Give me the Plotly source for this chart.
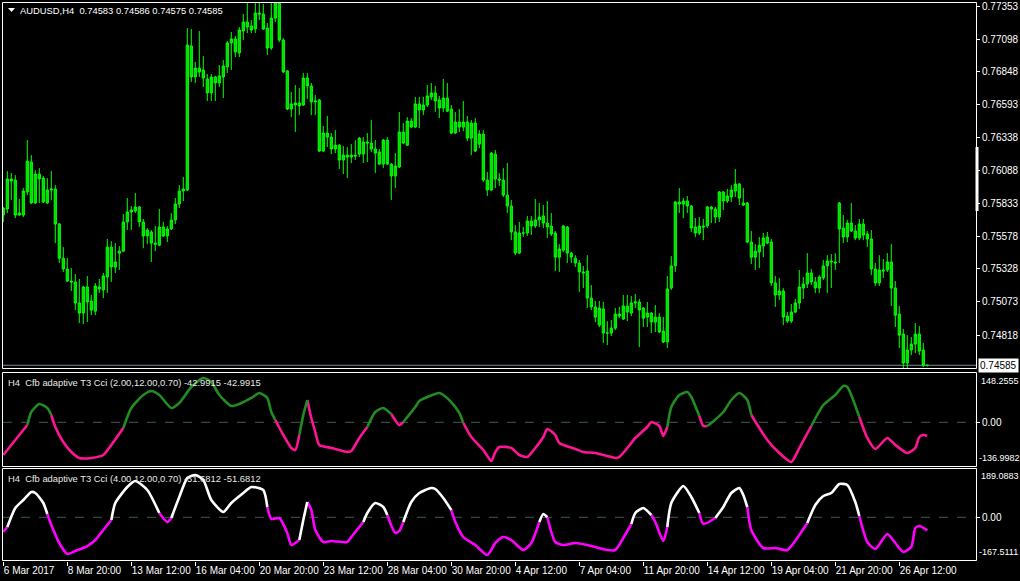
import plotly.graph_objects as go

W, H = 1020, 581
FONT = "Liberation Sans"

# ---------------- data (AUDUSD H4) ----------------
open_ = [
0.75742,0.75789,0.76020,0.76012,0.75742,0.75742,0.75920,0.76151,0.75835,0.76058,
0.76027,0.75835,0.75935,0.75943,0.75673,0.75410,0.75327,0.75234,0.75227,0.75065,
0.74987,0.75188,0.75080,0.75002,0.75188,0.75165,0.75265,0.75495,0.75342,0.75449,
0.75464,0.75689,0.75766,0.75773,0.75804,0.75689,0.75581,0.75612,0.75526,0.75510,
0.75650,0.75581,0.75635,0.75704,0.75827,0.75927,0.75935,0.77045,0.76806,0.76875,
0.76860,0.76791,0.76683,0.76806,0.76760,0.76806,0.76883,0.77068,0.77099,0.76991,
0.77160,0.77230,0.77199,0.77176,0.77299,0.77291,0.77183,0.77029,0.77260,0.77376,
0.77091,0.76852,0.76559,0.76590,0.76606,0.76590,0.76798,0.76737,0.76614,0.76629,
0.76235,0.76374,0.76343,0.76251,0.76281,0.76166,0.76204,0.76189,0.76204,0.76212,
0.76212,0.76305,0.76297,0.76251,0.76228,0.76135,0.76320,0.76135,0.76043,0.76112,
0.76382,0.76281,0.76466,0.76420,0.76598,0.76551,0.76590,0.76652,0.76683,0.76629,
0.76567,0.76644,0.76559,0.76374,0.76459,0.76420,0.76459,0.76335,0.76451,0.76289,
0.76366,0.76012,0.75935,0.76212,0.76020,0.76012,0.75896,0.75812,0.75612,0.75449,
0.75604,0.75604,0.75696,0.75658,0.75704,0.75735,0.75681,0.75658,0.75604,0.75418,
0.75472,0.75650,0.75449,0.75410,0.75373,0.75304,0.75311,0.75103,0.75034,0.74894,
0.75019,0.74833,0.74833,0.74871,0.74979,0.74941,0.75042,0.74987,0.75065,0.75073,
0.75026,0.74956,0.74987,0.74918,0.74956,0.74848,0.74764,0.75180,0.75350,0.75843,
0.75827,0.75850,0.75812,0.75650,0.75604,0.75658,0.75658,0.75804,0.75789,0.75727,
0.75920,0.75850,0.75881,0.75927,0.75981,0.75835,0.75835,0.75534,0.75418,0.75457,
0.75503,0.75573,0.75534,0.75219,0.75126,0.75157,0.74964,0.74925,0.74995,0.75065,
0.75180,0.75211,0.75296,0.75227,0.75180,0.75257,0.75350,0.75388,0.75381,0.75835,
0.75642,0.75573,0.75681,0.75619,0.75565,0.75673,0.75596,0.75558,0.75327,0.75219,
0.75319,0.75319,0.75381,0.75180,0.74979,0.74825,0.74602,0.74702,0.74748,0.74825,
0.74702,0.74583]

high = [
0.75804,0.76081,0.76066,0.76050,0.75866,0.75950,0.76320,0.76204,0.76089,0.76104,
0.76043,0.76027,0.76081,0.75973,0.75681,0.75495,0.75410,0.75334,0.75288,0.75250,
0.75196,0.75273,0.75126,0.75219,0.75250,0.75296,0.75558,0.75541,0.75526,0.75503,
0.75750,0.75873,0.75812,0.75912,0.75812,0.75712,0.75642,0.75627,0.75658,0.75789,
0.75689,0.75658,0.75758,0.75873,0.75973,0.76035,0.77183,0.77176,0.76922,0.77160,
0.76968,0.76829,0.76829,0.76814,0.76898,0.76937,0.77083,0.77153,0.77122,0.77191,
0.77291,0.77376,0.77245,0.77376,0.77376,0.77368,0.77222,0.77376,0.77410,0.77391,
0.77106,0.76860,0.76691,0.76744,0.76721,0.76837,0.76837,0.76760,0.76667,0.76637,
0.76428,0.76505,0.76374,0.76397,0.76289,0.76274,0.76266,0.76289,0.76320,0.76343,
0.76343,0.76374,0.76474,0.76320,0.76251,0.76328,0.76343,0.76143,0.76220,0.76536,
0.76451,0.76497,0.76489,0.76652,0.76652,0.76652,0.76744,0.76760,0.76737,0.76660,
0.76791,0.76760,0.76590,0.76536,0.76559,0.76621,0.76505,0.76474,0.76489,0.76397,
0.76397,0.76074,0.76228,0.76243,0.76066,0.76104,0.76143,0.75858,0.75665,0.75689,
0.75650,0.75735,0.75735,0.75866,0.75835,0.75819,0.75850,0.75758,0.75619,0.75518,
0.75665,0.75658,0.75457,0.75433,0.75396,0.75350,0.75433,0.75203,0.75080,0.75080,
0.75073,0.74925,0.74933,0.75026,0.75034,0.75126,0.75126,0.75118,0.75134,0.75096,
0.75034,0.75073,0.74995,0.75049,0.74987,0.74956,0.75273,0.75426,0.75850,0.75950,
0.75873,0.75889,0.75819,0.75719,0.75727,0.75712,0.75812,0.75812,0.75804,0.75927,
0.75927,0.75943,0.75973,0.76097,0.75989,0.75950,0.75843,0.75619,0.75518,0.75573,
0.75604,0.75612,0.75558,0.75273,0.75257,0.75180,0.74995,0.75057,0.75096,0.75319,
0.75265,0.75449,0.75327,0.75265,0.75280,0.75396,0.75433,0.75441,0.75449,0.75843,
0.75742,0.75704,0.75835,0.75665,0.75712,0.75712,0.75619,0.75627,0.75373,0.75433,
0.75403,0.75449,0.75518,0.75234,0.75042,0.74864,0.74817,0.74802,0.74910,0.74887,
0.74756,0.74586]

low = [
0.75689,0.75758,0.75858,0.75719,0.75735,0.75727,0.75896,0.75827,0.75827,0.75835,
0.75835,0.75827,0.75858,0.75526,0.75373,0.75304,0.75227,0.75157,0.75010,0.74910,
0.74902,0.74918,0.74971,0.74971,0.75142,0.75103,0.75142,0.75227,0.75296,0.75319,
0.75457,0.75627,0.75627,0.75758,0.75650,0.75487,0.75518,0.75381,0.75464,0.75503,
0.75573,0.75534,0.75627,0.75673,0.75796,0.75850,0.75927,0.76768,0.76760,0.76806,
0.76729,0.76621,0.76621,0.76621,0.76729,0.76644,0.76837,0.76860,0.76960,0.76960,
0.77091,0.77145,0.77145,0.77145,0.77245,0.77168,0.76975,0.77014,0.77230,0.77076,
0.76837,0.76551,0.76497,0.76382,0.76512,0.76583,0.76637,0.76512,0.76512,0.76228,
0.76228,0.76266,0.76212,0.76220,0.76097,0.76058,0.76027,0.76143,0.76166,0.76189,
0.76143,0.76151,0.76228,0.76066,0.76127,0.76104,0.76127,0.75858,0.75950,0.76104,
0.76289,0.76274,0.76412,0.76412,0.76412,0.76512,0.76575,0.76629,0.76536,0.76489,
0.76536,0.76536,0.76366,0.76366,0.76382,0.76389,0.76312,0.76204,0.76228,0.76258,
0.75997,0.75889,0.75927,0.75950,0.75966,0.75881,0.75758,0.75549,0.75433,0.75441,
0.75573,0.75581,0.75588,0.75642,0.75650,0.75642,0.75565,0.75581,0.75311,0.75304,
0.75457,0.75373,0.75373,0.75342,0.75150,0.75180,0.75026,0.75010,0.74918,0.74879,
0.74756,0.74740,0.74810,0.74856,0.74948,0.74933,0.74925,0.74964,0.75026,0.74725,
0.74879,0.74879,0.74833,0.74841,0.74833,0.74756,0.74717,0.75165,0.75304,0.75758,
0.75719,0.75758,0.75612,0.75573,0.75588,0.75549,0.75642,0.75681,0.75681,0.75689,
0.75781,0.75835,0.75843,0.75881,0.75819,0.75812,0.75526,0.75365,0.75319,0.75334,
0.75418,0.75518,0.75196,0.75034,0.75088,0.74894,0.74910,0.74910,0.74987,0.75019,
0.75096,0.75180,0.75203,0.75142,0.75142,0.75242,0.75142,0.75180,0.75319,0.75373,
0.75526,0.75534,0.75612,0.75549,0.75549,0.75549,0.75495,0.75280,0.75196,0.75196,
0.75257,0.75304,0.75042,0.74879,0.74717,0.74548,0.74563,0.74663,0.74679,0.74663,
0.74571,0.74575]

close = [
0.75796,0.76020,0.76004,0.75742,0.75758,0.75927,0.76158,0.75835,0.76058,0.76020,
0.75843,0.75935,0.75943,0.75673,0.75410,0.75327,0.75234,0.75227,0.75065,0.74987,
0.75188,0.75073,0.75010,0.75196,0.75173,0.75273,0.75495,0.75342,0.75381,0.75464,
0.75689,0.75766,0.75781,0.75804,0.75689,0.75581,0.75627,0.75526,0.75518,0.75650,
0.75581,0.75635,0.75704,0.75827,0.75927,0.75943,0.77052,0.76806,0.76875,0.76845,
0.76798,0.76683,0.76806,0.76760,0.76814,0.76891,0.77068,0.77099,0.76999,0.77168,
0.77230,0.77191,0.77168,0.77299,0.77291,0.77176,0.77029,0.77260,0.77376,0.77091,
0.76845,0.76559,0.76598,0.76606,0.76583,0.76798,0.76737,0.76614,0.76621,0.76235,
0.76374,0.76343,0.76251,0.76281,0.76166,0.76204,0.76189,0.76204,0.76197,0.76335,
0.76305,0.76297,0.76251,0.76220,0.76135,0.76320,0.76135,0.76043,0.76120,0.76382,
0.76297,0.76466,0.76420,0.76598,0.76551,0.76590,0.76660,0.76683,0.76621,0.76567,
0.76644,0.76543,0.76374,0.76459,0.76420,0.76459,0.76335,0.76451,0.76235,0.76366,
0.76012,0.75935,0.76220,0.76020,0.76012,0.75896,0.75812,0.75612,0.75449,0.75604,
0.75604,0.75696,0.75658,0.75704,0.75727,0.75681,0.75650,0.75596,0.75418,0.75480,
0.75658,0.75449,0.75418,0.75373,0.75304,0.75296,0.75103,0.75034,0.74956,0.75026,
0.74833,0.74833,0.74871,0.74979,0.74964,0.75042,0.74995,0.75065,0.75073,0.75010,
0.74948,0.74987,0.74918,0.74956,0.74841,0.74764,0.75173,0.75350,0.75843,0.75827,
0.75850,0.75812,0.75642,0.75604,0.75658,0.75650,0.75804,0.75789,0.75727,0.75920,
0.75850,0.75889,0.75935,0.75981,0.75873,0.75819,0.75534,0.75418,0.75464,0.75510,
0.75565,0.75526,0.75219,0.75126,0.75157,0.74956,0.74925,0.74995,0.75065,0.75188,
0.75211,0.75296,0.75227,0.75180,0.75265,0.75350,0.75388,0.75381,0.75373,0.75635,
0.75573,0.75681,0.75619,0.75565,0.75673,0.75588,0.75558,0.75327,0.75219,0.75319,
0.75311,0.75381,0.75180,0.74971,0.74817,0.74602,0.74702,0.74748,0.74825,0.74694,
0.74583,0.74585]

bars = list(range(len(close)))
bid = 0.74585

tick_bars = [0, 16, 32, 48, 64, 80, 96, 112, 128, 144, 160, 176, 192, 208, 224]
tick_text = ["6 Mar 2017", "8 Mar 20:00", "13 Mar 12:00", "16 Mar 04:00", "20 Mar 20:00",
             "23 Mar 12:00", "28 Mar 04:00", "30 Mar 20:00", "4 Apr 12:00", "7 Apr 04:00",
             "11 Apr 20:00", "14 Apr 12:00", "19 Apr 04:00", "21 Apr 20:00", "26 Apr 12:00"]

price_ticks = [0.77353, 0.77098, 0.76848, 0.76593, 0.76338, 0.76088,
               0.75833, 0.75578, 0.75328, 0.75073, 0.74818]
price_tick_text = ["0.77353", "0.77098", "0.76848", "0.76593", "0.76338", "0.76088",
                   "0.75833", "0.75578", "0.75328", "0.75073", "0.74818"]

# CCI #1 (2.00,12.00,0.70): bar, value, state (1 = up colour)
cci1_bar = [0,2,4,6,7,9,11,12,13,15, 17,19,22,25,27,30,32,35,37,39,
            42,44,47,50,52,54,57,59,62,64, 66,67,68,70,72,73,74,75,76,77,
            78,79,82,86,87,89,91,93,95,97, 99,100,103,104,106,109,110,112,114,115,
            117,120,122,123,124,127,129,131,133,135, 136,138,139,143,145,148,151,153,154,156,
            158,161,162,164,165,166,167,169,171,172, 174,175,176,177,180,182,184,186,187,191,
            194,197,199,202,205,208,210,211,214,216, 218,221,223,226,228,229,230,231]
cci1_val = [-102.5,-71.2,-39.8,-8.5,32.3,57.4,44.8,22.9,-14.7,-61.8,
            -93.1,-111.9,-111.9,-102.5,-71.2,-17.9,44.8,85.6,98.1,85.6,
            44.8,60.5,110.7,138.9,126.3,85.6,51.1,57.4,76.2,91.9,
            76.2,32.3,7.2,-39.8,-80.6,-86.8,-39.8,22.9,69.9,13.5,
            -30.4,-71.2,-80.6,-93.1,-90.0,-49.2,-14.7,32.3,44.8,26.0,
            -8.5,0.9,48.0,66.8,79.3,91.9,85.6,63.6,29.2,-2.2,
            -46.1,-86.8,-121.3,-93.1,-77.4,-80.6,-102.5,-108.8,-80.6,-46.1,
            -21.0,-39.8,-64.9,-83.7,-93.1,-96.2,-105.6,-111.9,-108.8,-80.6,
            -49.2,-14.7,0.9,-11.6,-42.9,-14.7,48.0,85.6,95.0,79.3,
            19.8,-11.6,-11.6,-2.2,32.3,69.9,91.9,69.9,22.9,-55.5,
            -96.2,-124.5,-80.6,-11.6,54.2,85.6,113.8,110.7,16.6,-49.2,
            -83.7,-49.2,-71.2,-96.2,-80.6,-46.1,-39.8,-43.0]
cci1_state = [0,0,0,1,1,1,1,0,0,0, 0,0,0,0,0,1,1,1,1,1,
              1,1,1,1,1,1,1,1,1,1, 1,1,0,0,0,0,1,1,0,0,
              0,0,0,0,0,0,1,1,1,0, 0,1,1,1,1,1,1,1,1,0,
              0,0,0,0,0,0,0,0,0,0, 0,0,0,0,0,0,0,0,0,0,
              0,0,0,0,0,1,1,1,1,1, 0,0,1,1,1,1,1,1,0,0,
              0,0,0,1,1,1,1,1,0,0, 0,0,0,0,0,0,0,0]

# CCI #2 (4.00,12.00,0.70)
cci2_bar = [0,1,3,5,7,8,10,11,12,14, 16,18,21,23,25,27,28,31,33,36,
            39,41,42,44,46,48,50,52,55,57, 60,62,65,66,67,69,71,72,74,75,
            76,77,78,80,82,86,87,90,91,93, 95,96,98,99,100,102,104,107,108,110,
            112,113,115,118,121,123,125,127,130,132, 134,135,136,138,140,143,146,151,153,155,
            157,158,160,162,163,165,166,167,170,172, 174,175,178,180,182,184,185,186,187,190,
            193,196,199,201,203,205,207,209,211,213, 214,216,218,221,223,225,227,228,229,231]
cci2_val = [-58.2,-38.4,36.8,68.5,100.2,96.2,56.6,13.1,-30.5,-101.8,
            -145.3,-133.5,-113.7,-89.9,-50.3,-10.7,56.6,120.0,143.7,108.1,
            17.0,-18.6,-2.8,80.4,155.6,167.5,147.7,68.5,21.0,56.6,
            96.2,120.0,108.1,40.8,-6.7,-2.8,-62.2,-109.7,-89.9,-10.7,
            60.6,28.9,-50.3,-97.8,-93.9,-97.8,-78.0,-18.6,17.0,56.6,
            40.8,9.1,-62.2,-54.0,-18.6,60.6,96.2,116.0,112.1,76.4,
            28.9,-18.6,-78.0,-109.7,-149.3,-101.8,-78.0,-89.9,-129.5,-101.8,
            -18.6,13.1,0.4,-97.8,-109.7,-101.8,-109.7,-129.5,-129.5,-81.9,
            -26.5,17.0,36.8,9.1,-18.6,-93.9,-38.4,56.6,123.9,80.4,
            17.0,-26.5,-2.8,40.8,96.2,116.0,88.3,40.8,-50.3,-121.6,
            -121.6,-129.5,-70.1,-22.6,48.7,84.3,96.2,131.9,127.9,60.6,
            5.1,-97.8,-125.5,-66.1,-101.8,-137.4,-117.6,-42.4,-34.5,-51.7]
cci2_state = [0,1,1,1,1,1,1,0,0,0, 0,0,0,0,0,1,1,1,1,1,
              0,0,1,1,1,1,1,1,1,1, 1,1,1,0,0,0,0,0,1,1,
              0,0,0,0,0,0,0,1,1,1, 1,0,0,0,1,1,1,1,1,1,
              0,0,0,0,0,0,0,0,0,0, 1,1,0,0,0,0,0,0,0,0,
              1,1,1,0,0,0,1,1,1,1, 0,0,1,1,1,1,1,0,0,0,
              0,0,0,1,1,1,1,1,1,1, 0,0,0,0,0,0,0,0,0,0]

titles = ["H4\u00a0 Cfb adaptive T3 Cci (2.00,12.00,0.70) -42.9915 -42.9915",
          "H4\u00a0 Cfb adaptive T3 Cci (4.00,12.00,0.70) -51.6812 -51.6812"]
panel_max_text = ["148.2555", "189.0883"]
panel_min_text = ["-136.9982", "-167.5111"]

# ---------------- helpers (layout only) ----------------
def fx(p):
    return p / W

def fy(p):
    return 1 - p / H

def price_at(py):
    return 0.77353 - (py - 6) * 0.00007705

def segments(xs, ys, st, yax, on_col, off_col):
    out = []
    n = len(xs)
    for state, col in ((0, off_col), (1, on_col)):
        X, Y = [], []
        k = 0
        while k < n - 1:
            if st[k] == state:
                s = k
                while k < n - 1 and st[k] == state:
                    k += 1
                X += xs[s:k + 1] + [None]
                Y += ys[s:k + 1] + [None]
            else:
                k += 1
        out.append(go.Scatter(x=X, y=Y, mode="lines", xaxis="x", yaxis=yax,
                              line=dict(color=col, width=2.6, shape="spline", smoothing=0.6),
                              connectgaps=False, hoverinfo="skip", showlegend=False))
    return out

fig = go.Figure()
fig.add_trace(go.Candlestick(
    x=bars, open=open_, high=high, low=low, close=close, xaxis="x", yaxis="y",
    increasing=dict(line=dict(color="#00FF00", width=1), fillcolor="#00DD00"),
    decreasing=dict(line=dict(color="#00FF00", width=1), fillcolor="#00DD00"),
    whiskerwidth=0, hoverinfo="skip", showlegend=False))

for t in segments(cci1_bar, cci1_val, cci1_state, "y2", "#228B22", "#FF1493"):
    fig.add_trace(t)
for t in segments(cci2_bar, cci2_val, cci2_state, "y3", "#FFFFFF", "#FF00FF"):
    fig.add_trace(t)

axfont = dict(family=FONT, size=10, color="white")
smallfont = dict(family=FONT, size=9, color="white")
titlefont = dict(family=FONT, size=9.4, color="white")
p2_lo, p2_hi = (422.3 - 466) * 3.135, (422.3 - 373) * 3.135
p3_lo, p3_hi = (517.3 - 560.5) * 3.96, (517.3 - 468.5) * 3.96

fig.update_layout(
    template="none", width=W, height=H, margin=dict(l=0, r=0, t=0, b=0),
    paper_bgcolor="black", plot_bgcolor="black", showlegend=False, boxgap=0.2,
    xaxis=dict(domain=[fx(2), fx(976)], range=[(2 - 3.3) / 4, (976 - 3.3) / 4],
               anchor="y3", tickvals=tick_bars, ticktext=tick_text, ticks="outside",
               ticklen=4, tickcolor="white", tickwidth=1, tickfont=axfont, tickangle=0,
               ticklabelposition="outside right", showgrid=False, zeroline=False,
               showline=False, automargin=False, rangeslider=dict(visible=False),
               fixedrange=True),
    yaxis=dict(domain=[fy(368.5), fy(2)], range=[price_at(368.5), price_at(2)],
               side="right", anchor="x", tickvals=price_ticks, ticktext=price_tick_text,
               ticks="outside", ticklen=3, tickcolor="white", tickfont=axfont,
               showgrid=False, zeroline=False, showline=False, automargin=False),
    yaxis2=dict(domain=[fy(466), fy(373)], range=[p2_lo, p2_hi], side="right", anchor="x",
                tickvals=[0], ticktext=["0.00"], ticks="outside", ticklen=3,
                tickcolor="white", tickfont=axfont, showgrid=False, zeroline=False,
                showline=False, automargin=False),
    yaxis3=dict(domain=[fy(560.5), fy(468.5)], range=[p3_lo, p3_hi], side="right", anchor="x",
                tickvals=[0], ticktext=["0.00"], ticks="outside", ticklen=3,
                tickcolor="white", tickfont=axfont, showgrid=False, zeroline=False,
                showline=False, automargin=False),
)

shapes = []
for (t, b) in ((2.5, 368.5), (372.5, 466.5), (468.5, 560.5)):
    shapes.append(dict(type="rect", xref="paper", yref="paper", x0=fx(2.5), x1=fx(976.5),
                       y0=fy(b), y1=fy(t), line=dict(color="white", width=1),
                       fillcolor="rgba(0,0,0,0)", layer="above"))
for yr in ("y2", "y3"):
    shapes.append(dict(type="line", xref="paper", yref=yr, x0=fx(3), x1=fx(976), y0=0, y1=0,
                       line=dict(color="#3F5A5A", width=1, dash="dash"), layer="below"))
shapes.append(dict(type="line", xref="paper", yref="y", x0=fx(3), x1=fx(976), y0=bid, y1=bid,
                   line=dict(color="#778899", width=1), layer="below"))
shapes.append(dict(type="rect", xref="paper", yref="paper", x0=fx(975.5), x1=fx(978.5),
                   y0=fy(211), y1=fy(147), line=dict(width=0), fillcolor="white"))
shapes.append(dict(type="path", xref="paper", yref="paper",
                   path="M %f %f L %f %f L %f %f Z" % (fx(8), fy(8), fx(15), fy(8), fx(11.5), fy(12)),
                   line=dict(width=0), fillcolor="white"))
fig.update_layout(shapes=shapes)

ann = []
ann.append(dict(xref="paper", yref="paper", x=fx(18), y=fy(10.5), xanchor="left", yanchor="middle",
                text="AUDUSD,H4\u00a0 0.74583 0.74586 0.74575 0.74585", showarrow=False,
                font=titlefont))
for k, (ty, tmax, tmin, ymax, ymin) in enumerate(((382, panel_max_text[0], panel_min_text[0], 381, 458),
                                                  (478, panel_max_text[1], panel_min_text[1], 476, 552))):
    ann.append(dict(xref="paper", yref="paper", x=fx(6), y=fy(ty), xanchor="left", yanchor="middle",
                    text=titles[k], showarrow=False,
                    font=dict(family=FONT, size=9.4, color="#E8E8E8")))
    ann.append(dict(xref="paper", yref="paper", x=fx(980), y=fy(ymax), xanchor="left", yanchor="middle",
                    text=tmax, showarrow=False, font=smallfont, borderpad=0))
    ann.append(dict(xref="paper", yref="paper", x=fx(977.5), y=fy(ymin), xanchor="left", yanchor="middle",
                    text=tmin, showarrow=False, font=smallfont, borderpad=0))
ann.append(dict(xref="paper", yref="y", x=fx(978), y=bid, xanchor="left", yanchor="middle",
                text="0.74585", showarrow=False, bgcolor="white", borderpad=1,
                font=dict(family=FONT, size=10, color="black")))
fig.update_layout(annotations=ann)

fig.write_html("out.html", config={"displayModeBar": False, "staticPlot": True},
               post_script="document.body.style.margin='0';document.body.style.padding='0';"
                           "document.body.style.background='black';")
